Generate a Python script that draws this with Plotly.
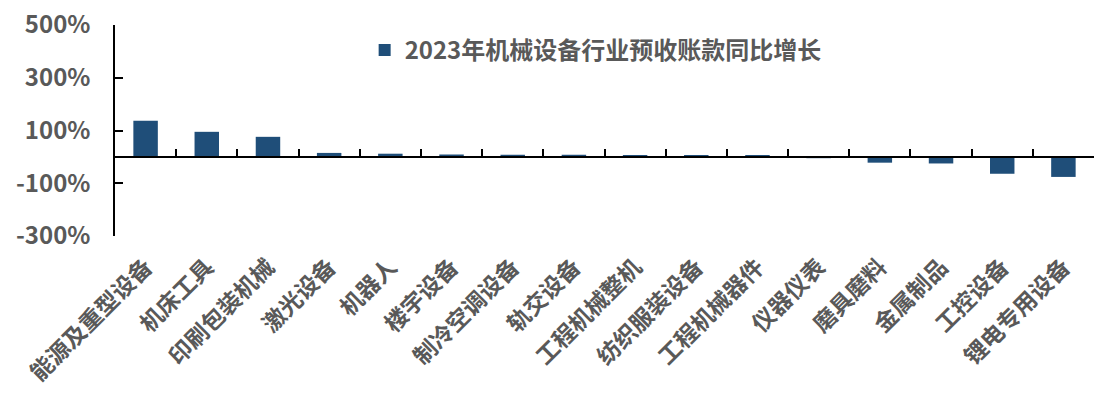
import plotly.graph_objects as go

categories = ["能源及重型设备", "机床工具", "印刷包装机械", "激光设备", "机器人", "楼宇设备",
              "制冷空调设备", "轨交设备", "工程机械整机", "纺织服装设备", "工程机械器件",
              "仪器仪表", "磨具磨料", "金属制品", "工控设备", "锂电专用设备"]
values = [137, 95, 76, 15, 12, 9, 8, 8, 5, 4, 4, -5, -22, -25, -64, -76]
series_name = "2023年机械设备行业预收账款同比增长"
y_tickvals = [-300, -100, 100, 300, 500]
y_ticktext = ["-300%", "-100%", "100%", "300%", "500%"]

bar_color = "#1F4E79"
text_color = "#595959"
font_family = "Noto Sans CJK SC, Noto Sans, sans-serif"

fig = go.Figure()
fig.add_trace(go.Bar(x=categories, y=values, name=series_name, marker_color=bar_color,
                     marker_line_width=0, showlegend=True))
# invisible trace for the zero-line axis with boundary ticks
fig.add_trace(go.Scatter(x=categories, y=[0] * len(categories), xaxis="x2", mode="none",
                         showlegend=False, hoverinfo="skip"))

fig.update_layout(
    width=1094, height=395, autosize=False,
    margin=dict(l=115, r=0, t=25, b=159),
    plot_bgcolor="white", paper_bgcolor="white",
    font=dict(family=font_family, color=text_color),
    bargap=0.6,
    showlegend=True,
    legend=dict(x=0.255, y=0.88, xanchor="left", yanchor="middle",
                font=dict(size=24, color=text_color, family=font_family, weight="bold"),
                bgcolor="rgba(0,0,0,0)"),
    xaxis=dict(showline=False, ticks="", showgrid=False, zeroline=False,
               tickangle=-45, tickfont=dict(size=23, color=text_color, weight="bold"),
               ticklabelstandoff=12),
    xaxis2=dict(overlaying="x", matches="x", anchor="free", position=0.375, side="bottom",
                showline=True, linecolor="black", linewidth=1.5, ticks="inside",
                tickson="boundaries", ticklen=7, tickwidth=1.5, tickcolor="black",
                showticklabels=False, showgrid=False, zeroline=False),
    yaxis=dict(range=[-300, 500], tickvals=y_tickvals, ticktext=y_ticktext,
               showline=True, linecolor="black", linewidth=1.5, ticks="inside",
               ticklen=8, tickwidth=1.5, tickcolor="black", showgrid=False, zeroline=False,
               tickfont=dict(size=24, color=text_color, weight="bold"),
               ticklabelstandoff=18),
)

fig.write_html("out.html")
